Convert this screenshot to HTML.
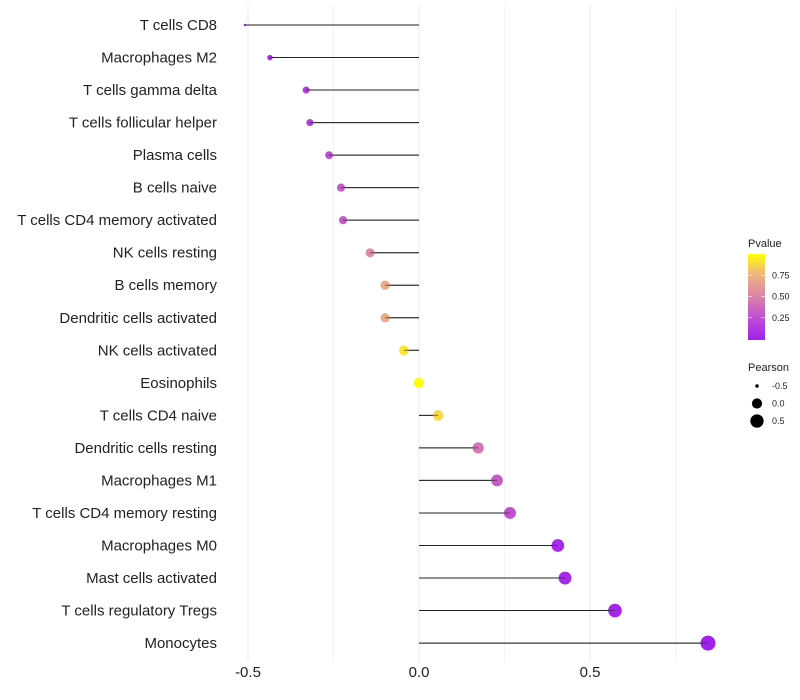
<!DOCTYPE html>
<html><head><meta charset="utf-8"><style>
body{margin:0;background:#fff;font-family:"Liberation Sans",sans-serif}
svg{display:block}
</style></head><body>
<svg id="chart" width="800" height="700"></svg>
<script>
const categories=["T cells CD8","Macrophages M2","T cells gamma delta","T cells follicular helper","Plasma cells","B cells naive","T cells CD4 memory activated","NK cells resting","B cells memory","Dendritic cells activated","NK cells activated","Eosinophils","T cells CD4 naive","Dendritic cells resting","Macrophages M1","T cells CD4 memory resting","Macrophages M0","Mast cells activated","T cells regulatory  Tregs","Monocytes"];
const pearson=[-0.509,-0.436,-0.330,-0.319,-0.263,-0.228,-0.222,-0.143,-0.099,-0.099,-0.044,0.0,0.056,0.173,0.228,0.266,0.406,0.427,0.573,0.845];
const pvalues=[0.03,0.06,0.15,0.17,0.25,0.32,0.32,0.55,0.72,0.72,0.92,0.99,0.88,0.45,0.32,0.27,0.06,0.05,0.03,0.01];
const xTicks=[-0.5,0.0,0.5];
const xTickLabels=["-0.5","0.0","0.5"];
const colorTicks=[0.25,0.50,0.75];
const sizeLegend=[-0.5,0.0,0.5];

const NS="http://www.w3.org/2000/svg";
const svg=document.getElementById('chart');
function el(t,a,p){const e=document.createElementNS(NS,t);for(const k in a)e.setAttribute(k,a[k]);(p||svg).appendChild(e);return e;}
const x=v=>419+v*342;
const y=i=>25+i*32.53;
const stops=[[0,[160,32,240]],[0.3,[196,88,204]],[0.55,[222,140,160]],[0.78,[240,184,128]],[1,[255,255,0]]];
function color(p){for(let k=1;k<stops.length;k++){if(p<=stops[k][0]){const a=stops[k-1],b=stops[k],t=(p-a[0])/(b[0]-a[0]);
 return `rgb(${a[1].map((v,i)=>Math.round(v+(b[1][i]-v)*t))})`;}}return 'rgb(255,255,0)';}
const pmin=Math.min(...pearson),pmax=Math.max(...pearson);
const rad=v=>{const t=Math.max(0,Math.min(1,(v-pmin)/(pmax-pmin)));return 1.25*(1+5*Math.sqrt(t));};

[-0.5,-0.25,0,0.25,0.5,0.75].forEach(v=>{const g=el('line',{x1:x(v),x2:x(v),y1:5,y2:662,stroke:'#ebebeb','stroke-width':v*4%2==0?1.1:0.6});
});
xTicks.forEach((v,i)=>{const t=el('text',{x:x(v),y:677,'text-anchor':'middle','font-size':15,fill:'#222'});t.textContent=xTickLabels[i];
});
categories.forEach((c,i)=>{
 const t=el('text',{x:217,y:y(i)+5,'text-anchor':'end','font-size':15,fill:'#222'});t.textContent=c;
 
 const l=el('line',{x1:x(0),x2:x(pearson[i]),y1:y(i),y2:y(i),stroke:'#222','stroke-width':1});
 
 const p=el('circle',{cx:x(pearson[i]),cy:y(i),r:rad(pearson[i]),fill:color(pvalues[i])});
 
 const l2=el('line',{x1:x(0),x2:x(pearson[i]),y1:y(i),y2:y(i),stroke:'#222','stroke-width':1,opacity:0.6});
 
});
const lt=el('text',{x:748,y:247,'font-size':11,fill:'#222'});lt.textContent='Pvalue';

const defs=el('defs',{});const gr=el('linearGradient',{id:'pg',x1:0,y1:1,x2:0,y2:0},defs);
[0,0.1,0.2,0.3,0.4,0.5,0.6,0.7,0.8,0.9,1].forEach(p=>el('stop',{offset:p,'stop-color':color(p)},gr));
const bar=el('rect',{x:748,y:254,width:17,height:86,fill:'url(#pg)'});

colorTicks.forEach(p=>{const ty=339-p*85;
 el('line',{x1:748,x2:752,y1:ty,y2:ty,stroke:'#fff','stroke-width':0.6});el('line',{x1:761,x2:765,y1:ty,y2:ty,stroke:'#fff','stroke-width':0.6});
 const t=el('text',{x:772,y:ty+3,'font-size':9,fill:'#222'});t.textContent=p.toFixed(2);
 });
const st=el('text',{x:748,y:371,'font-size':11,fill:'#222'});st.textContent='Pearson';

sizeLegend.forEach((v,i)=>{const yy=386+i*17.5;
 const c=el('circle',{cx:757,cy:yy,r:rad(v),fill:'#000'});
 const t=el('text',{x:772,y:yy+3,'font-size':9,fill:'#222'});t.textContent=v.toFixed(1);
 });
</script>
</body></html>
